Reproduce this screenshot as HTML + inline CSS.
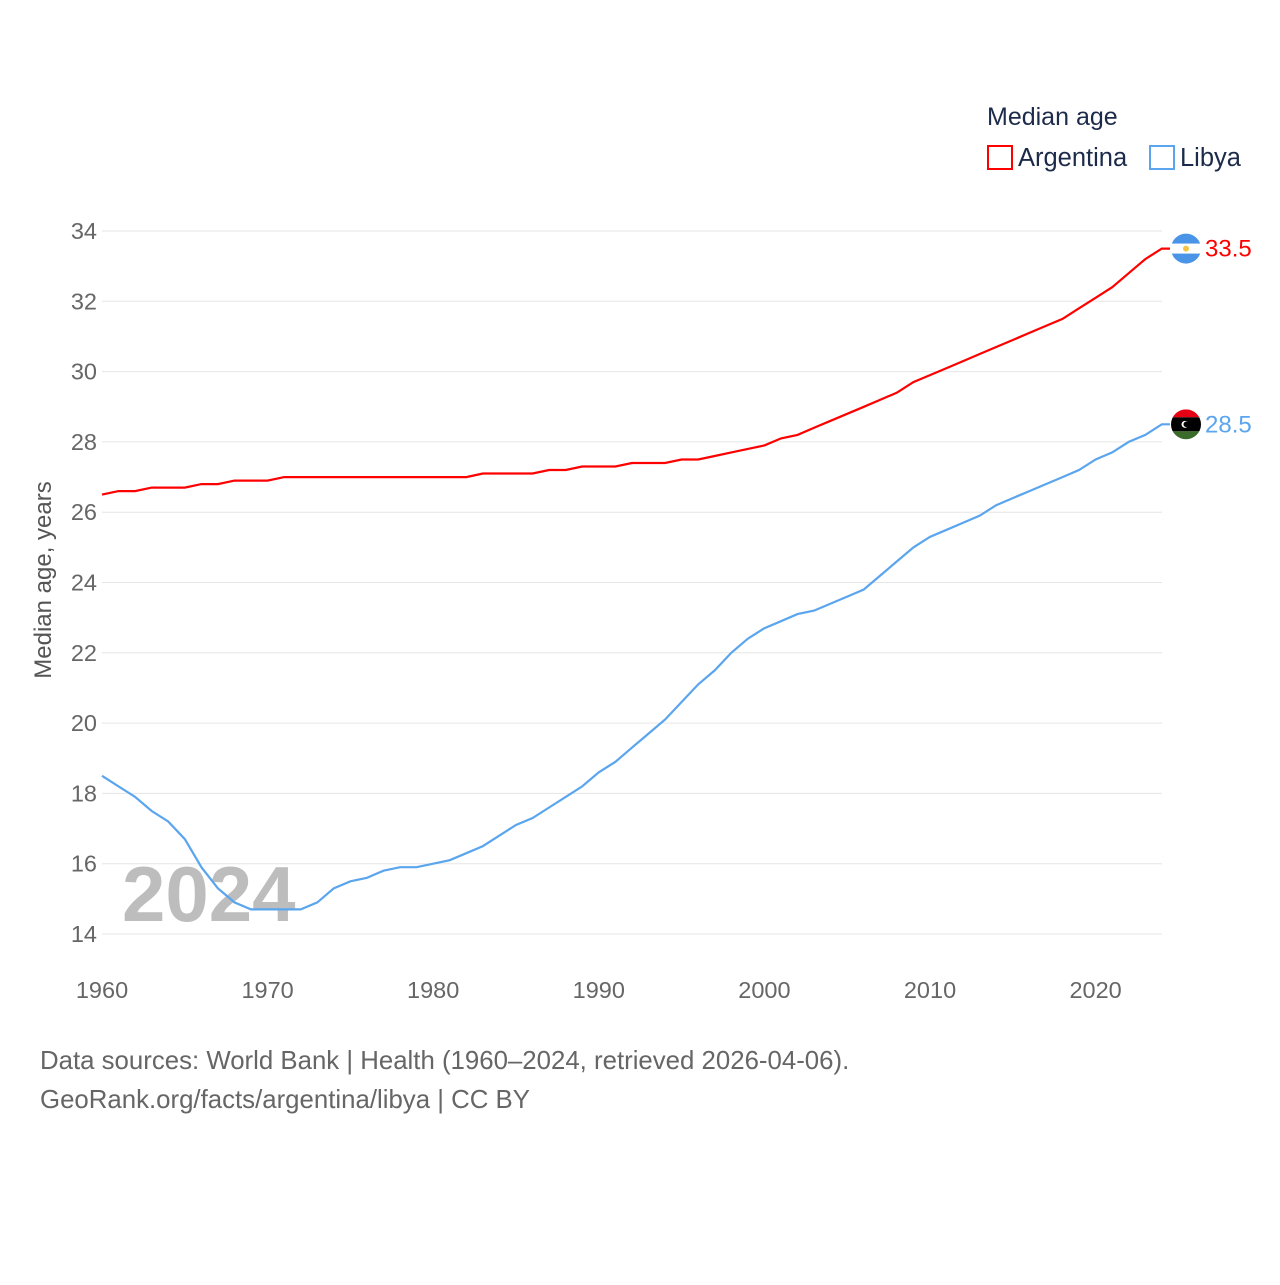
<!DOCTYPE html>
<html><head><meta charset="utf-8"><style>
body{margin:0;background:#fff;font-family:"Liberation Sans",sans-serif}
svg text{font-family:"Liberation Sans",sans-serif}
</style></head><body>
<svg id="c" width="1280" height="1280" xmlns="http://www.w3.org/2000/svg">
<defs><clipPath id="cl"><circle id="clc" cx="1186" cy="424" r="15"/></clipPath></defs>
<text x="987" y="125" font-size="25" fill="#1d2b4a">Median age</text>
<g><rect x="988" y="146" width="24" height="23" fill="none" stroke="#ff0000" stroke-width="2"/><text x="1018" y="166" font-size="25.5" fill="#1d2b4a">Argentina</text></g>
<g><rect x="1150" y="146" width="24" height="23" fill="none" stroke="#5aa5ee" stroke-width="2"/><text x="1180" y="166" font-size="25.5" fill="#1d2b4a">Libya</text></g>
<text transform="translate(51,580) rotate(-90)" text-anchor="middle" font-size="24" fill="#555">Median age, years</text>
<text x="122" y="921" font-size="78" font-weight="bold" fill="#bdbdbd">2024</text>
<g id="grid"></g><g id="series"></g>
<text x="40" y="1069" font-size="25.8" fill="#666">Data sources: World Bank | Health (1960–2024, retrieved 2026-04-06).</text>
<text x="40" y="1108" font-size="25.8" fill="#666">GeoRank.org/facts/argentina/libya | CC BY</text>
</svg>
<script>
const years=[];for(let y=1960;y<=2024;y++)years.push(y);
const argentina=[26.5,26.6,26.6,26.7,26.7,26.7,26.8,26.8,26.9,26.9,26.9,27.0,27.0,27.0,27.0,27.0,27.0,27.0,27.0,27.0,27.0,27.0,27.0,27.1,27.1,27.1,27.1,27.2,27.2,27.3,27.3,27.3,27.4,27.4,27.4,27.5,27.5,27.6,27.7,27.8,27.9,28.1,28.2,28.4,28.6,28.8,29.0,29.2,29.4,29.7,29.9,30.1,30.3,30.5,30.7,30.9,31.1,31.3,31.5,31.8,32.1,32.4,32.8,33.2,33.5];
const libya=[18.5,18.2,17.9,17.5,17.2,16.7,15.9,15.3,14.9,14.7,14.7,14.7,14.7,14.9,15.3,15.5,15.6,15.8,15.9,15.9,16.0,16.1,16.3,16.5,16.8,17.1,17.3,17.6,17.9,18.2,18.6,18.9,19.3,19.7,20.1,20.6,21.1,21.5,22.0,22.4,22.7,22.9,23.1,23.2,23.4,23.6,23.8,24.2,24.6,25.0,25.3,25.5,25.7,25.9,26.2,26.4,26.6,26.8,27.0,27.2,27.5,27.7,28.0,28.2,28.5];
const yTicks=[14,16,18,20,22,24,26,28,30,32,34];
const xTicks=[1960,1970,1980,1990,2000,2010,2020];
const NS="http://www.w3.org/2000/svg";
const X=v=>102+(v-1960)*16.56, Y=v=>934-(v-14)*35.15;
function mk(t,a,p){const e=document.createElementNS(NS,t);for(const k in a)e.setAttribute(k,a[k]);p.appendChild(e);return e;}
const g=document.getElementById('grid');
yTicks.forEach(t=>{
 const l=mk('line',{x1:102,x2:1162,y1:Y(t),y2:Y(t),stroke:'#e6e6e6','stroke-width':1},g);
 
 
 const tx=mk('text',{x:97,y:Y(t)+8,'text-anchor':'end','font-size':23.5,fill:'#666'},g);tx.textContent=t;
 
 
});
xTicks.forEach(t=>{
 const tx=mk('text',{x:X(t),y:998,'text-anchor':'middle','font-size':23.5,fill:'#666'},g);tx.textContent=t;
 
 
});
const s=document.getElementById('series');
function line(vals,col,name){
 let d=vals.map((v,i)=>(i?'L':'M')+X(years[i]).toFixed(1)+','+Y(v).toFixed(1)).join('');
 d+='L1170,'+Y(vals[vals.length-1]).toFixed(1);
 const p=mk('path',{d:d,fill:'none',stroke:col,'stroke-width':2.2},s);
 
 
 const lb=mk('text',{x:1205,y:Y(vals[vals.length-1])+8,'font-size':24,fill:col},s);lb.textContent=vals[vals.length-1].toFixed(1);
 
 
}
line(argentina,'#ff0000','argentina');line(libya,'#5aa5ee','libya');
const ya=Y(argentina[argentina.length-1]),yl=Y(libya[libya.length-1]);
const fa=mk('g',{},s);


mk('circle',{cx:1186,cy:ya,r:15,fill:'#4a94e8'},fa);
mk('rect',{x:1171,y:ya-5,width:30,height:10,fill:'#fff'},fa);
mk('circle',{cx:1186,cy:ya,r:3,fill:'#f6c445'},fa);
document.getElementById('clc').setAttribute('cy',yl);
const fl=mk('g',{'clip-path':'url(#cl)'},s);


mk('rect',{x:1171,y:yl-15,width:30,height:8,fill:'#e70013'},fl);
mk('rect',{x:1171,y:yl-7,width:30,height:14,fill:'#000'},fl);
mk('rect',{x:1171,y:yl+7,width:30,height:8,fill:'#3a6b2a'},fl);
mk('circle',{cx:1185,cy:yl,r:3.5,fill:'#fff'},fl);
mk('circle',{cx:1186.3,cy:yl,r:2.8,fill:'#000'},fl);
</script>
</body></html>
